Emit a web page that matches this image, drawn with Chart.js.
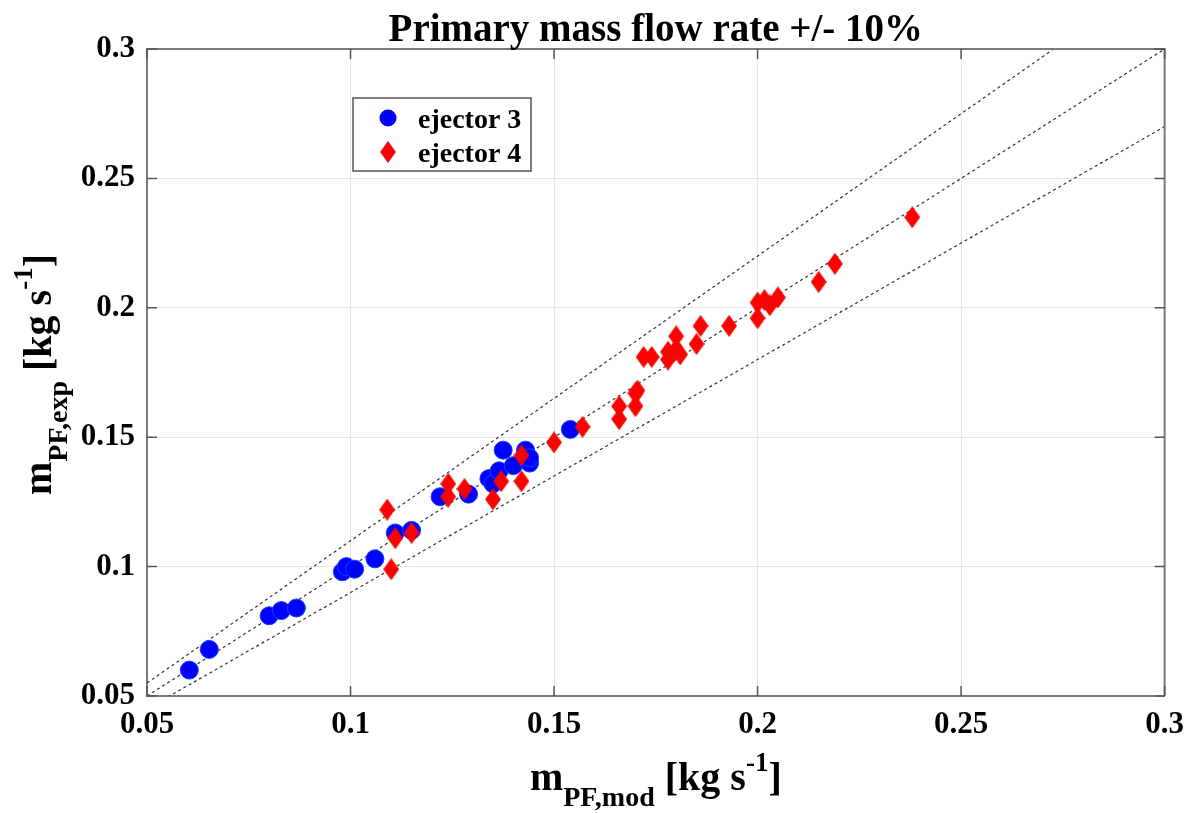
<!DOCTYPE html>
<html>
<head>
<meta charset="utf-8">
<script src="https://cdn.jsdelivr.net/npm/chart.js@4/dist/chart.umd.min.js"></script>
<style>
html,body{margin:0;padding:0;background:#fff;}
#wrap{width:1194px;height:813px;position:relative;}
canvas{display:block;}
</style>
</head>
<body>
<div id="wrap"><canvas id="c" width="1194" height="813"></canvas></div>
<script>
// ---- data ----
const titleText = 'Primary mass flow rate +/- 10%';
const seriesNames = ['ejector 3', 'ejector 4'];
const tickValues = [0.05, 0.1, 0.15, 0.2, 0.25, 0.3];
const tickLabels = ['0.05', '0.1', '0.15', '0.2', '0.25', '0.3'];

const ej3X = [0.0604,0.0653,0.080,0.083,0.0867,0.098,0.099,0.101,0.106,0.111,0.115,0.122,0.129,0.134,0.135,0.1365,0.1375,0.140,0.143,0.144,0.144,0.154];
const ej3Y = [0.060,0.068,0.081,0.083,0.084,0.098,0.100,0.099,0.103,0.113,0.114,0.127,0.128,0.134,0.132,0.137,0.145,0.139,0.145,0.140,0.142,0.153];

const ej4X = [0.109,0.110,0.111,0.115,0.124,0.124,0.128,0.135,0.137,0.142,0.142,0.150,0.157,0.166,0.166,0.170,0.170,0.1705,0.172,0.174,0.178,0.178,0.180,0.181,0.180,0.185,0.186,0.193,0.200,0.200,0.2017,0.203,0.205,0.215,0.219,0.238];
const ej4Y = [0.122,0.099,0.111,0.113,0.132,0.127,0.130,0.126,0.133,0.133,0.143,0.148,0.154,0.157,0.162,0.162,0.167,0.168,0.181,0.181,0.183,0.180,0.184,0.182,0.189,0.186,0.193,0.193,0.196,0.202,0.203,0.201,0.204,0.210,0.217,0.235];

// reference lines: parity and +/-10 %
const lineX = [0.05, 0.3];
const parityY = [0.05, 0.3];
const upperY = [0.055, 0.33];
const lowerY = [0.045, 0.27];

// ---- helpers ----
const pts = (xs, ys) => xs.map((x, i) => ({x: x, y: ys[i]}));

function diamondCanvas(w, h, color) {
  const c = document.createElement('canvas');
  c.width = w; c.height = h;
  const g = c.getContext('2d');
  g.fillStyle = color;
  g.strokeStyle = '#e01000';
  g.lineWidth = 0.8;
  g.beginPath();
  g.moveTo(w/2, 0.5); g.lineTo(w-0.5, h/2); g.lineTo(w/2, h-0.5); g.lineTo(0.5, h/2);
  g.closePath(); g.fill(); g.stroke();
  return c;
}
const diamond = diamondCanvas(16, 22, '#ff0000');

const FONT = "'Liberation Serif','Times New Roman',serif";

function drawParts(ctx, parts, x, y) {
  let cx = x;
  parts.forEach(p => {
    ctx.font = 'bold ' + p.size + 'px ' + FONT;
    ctx.fillText(p.t, cx, y + p.dy);
    cx += ctx.measureText(p.t).width;
  });
}
function partsWidth(ctx, parts) {
  let w = 0;
  parts.forEach(p => { ctx.font = 'bold ' + p.size + 'px ' + FONT; w += ctx.measureText(p.t).width; });
  return w;
}

const decor = {
  id: 'decor',
  afterDraw(chart) {
    const ctx = chart.ctx;
    const a = chart.chartArea;
    const xs = chart.scales.x, ys = chart.scales.y;
    ctx.save();
    // box top & right
    ctx.strokeStyle = '#7a7a7a';
    ctx.lineWidth = 2;
    ctx.beginPath();
    ctx.moveTo(a.left, a.top); ctx.lineTo(a.right, a.top); ctx.lineTo(a.right, a.bottom);
    ctx.stroke();
    // inward ticks
    ctx.strokeStyle = '#555';
    ctx.lineWidth = 1.5;
    ctx.beginPath();
    tickValues.forEach(v => {
      const px = xs.getPixelForValue(v);
      ctx.moveTo(px, a.bottom); ctx.lineTo(px, a.bottom - 10);
      ctx.moveTo(px, a.top); ctx.lineTo(px, a.top + 10);
      const py = ys.getPixelForValue(v);
      ctx.moveTo(a.left, py); ctx.lineTo(a.left + 10, py);
      ctx.moveTo(a.right, py); ctx.lineTo(a.right - 10, py);
    });
    ctx.stroke();

    ctx.fillStyle = '#000';
    // title
    ctx.font = 'bold 39px ' + FONT;
    ctx.textAlign = 'center';
    ctx.textBaseline = 'alphabetic';
    ctx.fillText(titleText, (a.left + a.right) / 2, 41);

    ctx.textAlign = 'left';
    // x axis title
    const xParts = [
      {t: 'm', size: 40, dy: 0},
      {t: 'PF,mod', size: 28, dy: 16},
      {t: ' [kg s', size: 40, dy: 0},
      {t: '-1', size: 27, dy: -19},
      {t: ']', size: 40, dy: 0}
    ];
    const xw = partsWidth(ctx, xParts);
    drawParts(ctx, xParts, (a.left + a.right) / 2 - xw / 2, 790);

    // y axis title
    const yParts = [
      {t: 'm', size: 40, dy: 0},
      {t: 'PF,exp', size: 28, dy: 16},
      {t: ' [kg s', size: 40, dy: 0},
      {t: '-1', size: 27, dy: -19},
      {t: ']', size: 40, dy: 0}
    ];
    const yw = partsWidth(ctx, yParts);
    ctx.save();
    ctx.translate(51, (a.top + a.bottom) / 2 + 2);
    ctx.rotate(-Math.PI / 2);
    drawParts(ctx, yParts, -yw / 2, 0);
    ctx.restore();

    // legend
    ctx.fillStyle = '#fff';
    ctx.fillRect(353, 98, 178, 73);
    ctx.strokeStyle = '#555';
    ctx.lineWidth = 1.5;
    ctx.strokeRect(353, 98, 178, 73);
    ctx.fillStyle = '#0000ff';
    ctx.beginPath(); ctx.arc(388, 118, 8.5, 0, Math.PI * 2); ctx.fill();
    ctx.drawImage(diamond, 388 - 8, 152 - 11);
    ctx.fillStyle = '#000';
    ctx.font = 'bold 28px ' + FONT;
    ctx.fillText(seriesNames[0], 418, 128);
    ctx.fillText(seriesNames[1], 418, 162);
    ctx.restore();
  }
};

const refStyle = {
  type: 'line', borderColor: '#333', borderWidth: 1.2, borderDash: [3, 3],
  pointRadius: 0, fill: false, order: 3
};

new Chart(document.getElementById('c'), {
  type: 'scatter',
  data: {
    datasets: [
      Object.assign({label: 'upper', data: pts(lineX, upperY)}, refStyle),
      Object.assign({label: 'parity', data: pts(lineX, parityY)}, refStyle),
      Object.assign({label: 'lower', data: pts(lineX, lowerY)}, refStyle),
      {
        label: seriesNames[0], data: pts(ej3X, ej3Y),
        backgroundColor: '#0000ff', borderColor: '#1040ff', borderWidth: 1,
        pointRadius: 9, pointStyle: 'circle', order: 1
      },
      {
        label: seriesNames[1], data: pts(ej4X, ej4Y),
        pointStyle: diamond, pointRadius: 11, order: 0
      }
    ]
  },
  options: {
    responsive: false,
    animation: false,
    devicePixelRatio: 1,
    layout: {padding: {top: 49, right: 26, left: 0, bottom: 0}},
    plugins: {legend: {display: false}, tooltip: {enabled: false}, title: {display: false}},
    scales: {
      x: {
        type: 'linear', min: 0.05, max: 0.3,
        afterBuildTicks: s => { s.ticks = tickValues.map(v => ({value: v})); },
        afterFit: s => { s.height = 117; },
        grid: {color: '#e6e6e6', lineWidth: 1, drawTicks: false},
        border: {color: '#7a7a7a', width: 2},
        ticks: {
          padding: 10, color: '#000',
          font: {family: FONT, size: 31, weight: 'bold'},
          callback: v => tickLabels[tickValues.indexOf(v)] ?? ''
        }
      },
      y: {
        type: 'linear', min: 0.05, max: 0.3,
        afterBuildTicks: s => { s.ticks = tickValues.map(v => ({value: v})); },
        afterFit: s => { s.width = 147; },
        grid: {color: '#e6e6e6', lineWidth: 1, drawTicks: false},
        border: {color: '#7a7a7a', width: 2},
        ticks: {
          padding: 12, color: '#000',
          font: {family: FONT, size: 31, weight: 'bold'},
          callback: v => tickLabels[tickValues.indexOf(v)] ?? ''
        }
      }
    }
  },
  plugins: [decor]
});
</script>
</body>
</html>
